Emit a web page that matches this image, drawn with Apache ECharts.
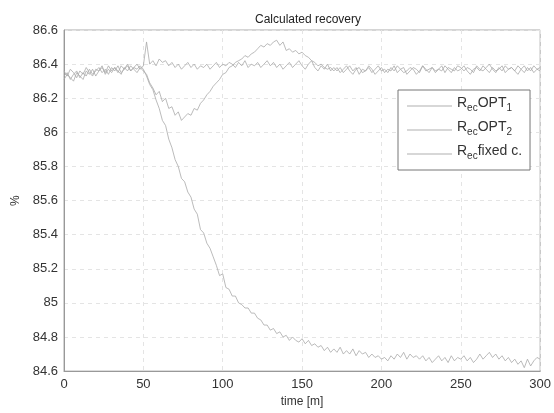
<!DOCTYPE html>
<html>
<head>
<meta charset="utf-8">
<script src="https://cdn.jsdelivr.net/npm/echarts@6/dist/echarts.min.js"></script>
<style>html,body{margin:0;padding:0;background:#fff}#c{width:554px;height:413px}</style>
</head>
<body>
<div id="c"></div>
<script>
// sampling step in minutes (t = 0, 2, ..., 300)
const timeStep = 2;
const xTicks = [0, 50, 100, 150, 200, 250, 300];
const yTicks = [84.6, 84.8, 85, 85.2, 85.4, 85.6, 85.8, 86, 86.2, 86.4, 86.6];

const recOpt1 = [
  86.33, 86.35, 86.31, 86.34, 86.36, 86.32, 86.35, 86.33, 86.37, 86.34,
  86.36, 86.38, 86.35, 86.37, 86.34, 86.38, 86.36, 86.39, 86.35, 86.37,
  86.39, 86.36, 86.38, 86.37, 86.39, 86.37, 86.33, 86.28, 86.25, 86.19,
  86.14, 86.07, 86.04, 85.96, 85.91, 85.84, 85.80, 85.73, 85.71, 85.65,
  85.62, 85.55, 85.52, 85.43, 85.41, 85.35, 85.32, 85.27, 85.22, 85.16,
  85.17, 85.09, 85.08, 85.04, 85.04, 85.00, 84.99, 84.97, 84.97, 84.94,
  84.94, 84.91, 84.90, 84.87, 84.87, 84.84, 84.85, 84.82, 84.83, 84.80,
  84.81, 84.78, 84.80, 84.78, 84.77, 84.79, 84.76, 84.78, 84.75, 84.76,
  84.74, 84.75, 84.72, 84.74, 84.71, 84.73, 84.71, 84.74, 84.70, 84.72,
  84.70, 84.73, 84.69, 84.72, 84.70, 84.71, 84.68, 84.70, 84.68, 84.69,
  84.67, 84.68, 84.66, 84.69, 84.67, 84.70, 84.68, 84.71, 84.67, 84.70,
  84.68, 84.69, 84.67, 84.69, 84.66, 84.68, 84.65, 84.67, 84.69, 84.66,
  84.68, 84.65, 84.69, 84.66, 84.68, 84.67, 84.69, 84.66, 84.68, 84.65,
  84.67, 84.70, 84.67, 84.69, 84.71, 84.68, 84.70, 84.67, 84.69, 84.66,
  84.68, 84.65, 84.67, 84.64, 84.66, 84.62, 84.67, 84.63, 84.66, 84.68,
  84.67
];

const recOpt2 = [
  86.36, 86.33, 86.37, 86.35, 86.32, 86.36, 86.34, 86.38, 86.35, 86.33,
  86.37, 86.36, 86.39, 86.34, 86.37, 86.35, 86.38, 86.36, 86.34, 86.38,
  86.36, 86.39, 86.37, 86.35, 86.38, 86.36, 86.34, 86.29, 86.26, 86.22,
  86.24, 86.18, 86.20, 86.14, 86.15, 86.10, 86.12, 86.07, 86.09, 86.11,
  86.10, 86.14, 86.13, 86.17, 86.19, 86.22, 86.24, 86.27, 86.29, 86.31,
  86.34, 86.35, 86.38, 86.39, 86.41, 86.42, 86.43, 86.45, 86.44, 86.46,
  86.47, 86.49, 86.51, 86.50, 86.52, 86.51, 86.53, 86.54, 86.51, 86.53,
  86.48, 86.49, 86.47, 86.48, 86.46, 86.47, 86.45, 86.44, 86.42, 86.41,
  86.39, 86.40, 86.38, 86.37, 86.38, 86.36, 86.38, 86.35, 86.37, 86.39,
  86.36, 86.34, 86.37, 86.38, 86.35, 86.36, 86.39, 86.37, 86.34, 86.36,
  86.38, 86.35, 86.37, 86.36, 86.39, 86.35, 86.37, 86.38, 86.34, 86.36,
  86.38, 86.37, 86.35, 86.39, 86.36, 86.37, 86.38, 86.35, 86.37, 86.36,
  86.39, 86.37, 86.35, 86.38, 86.36, 86.37, 86.39, 86.36, 86.34, 86.37,
  86.38, 86.36, 86.39, 86.37, 86.35, 86.38, 86.36, 86.37, 86.39, 86.35,
  86.37, 86.38, 86.36, 86.34, 86.37, 86.39, 86.36, 86.38, 86.35, 86.37,
  86.36
];

const recFixed = [
  86.31, 86.34, 86.32, 86.30, 86.35, 86.33, 86.31, 86.36, 86.34, 86.37,
  86.33, 86.36, 86.38, 86.35, 86.39, 86.36, 86.38, 86.35, 86.39, 86.37,
  86.40, 86.36, 86.38, 86.40, 86.37, 86.39, 86.53, 86.40, 86.42, 86.39,
  86.43, 86.41, 86.42, 86.39, 86.41, 86.38, 86.40, 86.37, 86.39, 86.41,
  86.38, 86.40, 86.37, 86.39, 86.38, 86.40, 86.37, 86.39, 86.41, 86.38,
  86.40, 86.39, 86.41, 86.40, 86.38, 86.41, 86.39, 86.42, 86.38, 86.40,
  86.39, 86.41, 86.38, 86.40, 86.42, 86.39, 86.41, 86.38, 86.40, 86.37,
  86.39, 86.41, 86.38, 86.40, 86.42, 86.39, 86.37, 86.40, 86.42, 86.38,
  86.36, 86.39, 86.37, 86.40, 86.36, 86.38, 86.36, 86.38, 86.35, 86.37,
  86.39, 86.36, 86.38, 86.34, 86.37, 86.36, 86.38, 86.35, 86.37, 86.39,
  86.36, 86.37, 86.35, 86.38, 86.36, 86.39, 86.37, 86.35, 86.36, 86.38,
  86.37, 86.34, 86.36, 86.39, 86.37, 86.35, 86.38, 86.36, 86.37, 86.39,
  86.35, 86.38, 86.37, 86.36, 86.39, 86.38, 86.36, 86.38, 86.37, 86.35,
  86.39, 86.37, 86.36, 86.38, 86.40, 86.37, 86.35, 86.38, 86.36, 86.39,
  86.37, 86.38, 86.36, 86.39, 86.37, 86.35, 86.38, 86.36, 86.39, 86.37,
  86.38
];

const seriesNames = ['OPT1', 'OPT2', 'fixed'];
const legendRich = {
  OPT1: '{a|R}{s|ec}{a|OPT}{s|1}',
  OPT2: '{a|R}{s|ec}{a|OPT}{s|2}',
  fixed: '{a|R}{s|ec}{a|fixed c.}'
};

function pairs(arr) {
  return arr.map((v, i) => [i * timeStep, v]);
}

const FONT = 'Liberation Sans, Arial, Helvetica, sans-serif';
const lineColor = '#aaaaaa';

const chart = echarts.init(document.getElementById('c'), null, {renderer: 'canvas'});
chart.setOption({
  animation: false,
  backgroundColor: '#fff',
  title: {
    text: 'Calculated recovery',
    left: 303, top: 9, textAlign: 'center',
    textStyle: {fontFamily: FONT, fontSize: 12, fontWeight: 'normal', color: '#222'}
  },
  grid: {
    left: 64, right: 11, top: 30, bottom: 41,
    show: true, borderColor: '#aaa', borderWidth: 1, backgroundColor: 'transparent'
  },
  legend: {
    orient: 'vertical',
    left: 398, top: 90,
    icon: 'rect',
    itemWidth: 45, itemHeight: 1, itemGap: 4,
    padding: [6, 8, 6, 9],
    backgroundColor: '#fff',
    borderColor: '#777', borderWidth: 1,
    data: seriesNames,
    formatter: name => legendRich[name],
    itemStyle: {color: '#b0b0b0', borderWidth: 0},
    textStyle: {
      fontFamily: FONT, color: '#333',
      rich: {
        a: {fontFamily: FONT, fontSize: 14, lineHeight: 14, padding: [0, 0, 6, 0], color: '#333'},
        s: {fontFamily: FONT, fontSize: 10, lineHeight: 10, verticalAlign: 'bottom', color: '#333'}
      }
    }
  },
  xAxis: {
    type: 'value', min: 0, max: 300, interval: 50,
    name: 'time [m]', nameLocation: 'middle', nameGap: 22,
    nameTextStyle: {fontFamily: FONT, fontSize: 12, color: '#333'},
    axisLine: {show: true, lineStyle: {color: '#999'}},
    axisTick: {show: false},
    axisLabel: {fontFamily: FONT, fontSize: 13, color: '#333', margin: 7},
    splitLine: {show: true, lineStyle: {color: '#e4e4e4', type: [4, 4]}}
  },
  yAxis: {
    type: 'value', min: 84.6, max: 86.6, interval: 0.2,
    name: '%', nameLocation: 'middle', nameGap: 40, nameRotate: 90,
    nameTextStyle: {fontFamily: FONT, fontSize: 12, color: '#333'},
    axisLine: {show: true, lineStyle: {color: '#999'}},
    axisTick: {show: false},
    axisLabel: {
      fontFamily: FONT, fontSize: 13, color: '#333', margin: 6,
      formatter: v => String(parseFloat(v.toFixed(1)))
    },
    splitLine: {show: true, lineStyle: {color: '#e4e4e4', type: [4, 4]}}
  },
  series: [
    {name: 'OPT1', type: 'line', data: pairs(recOpt1), symbol: 'none', lineStyle: {color: lineColor, width: 0.8}, itemStyle: {color: lineColor}},
    {name: 'OPT2', type: 'line', data: pairs(recOpt2), symbol: 'none', lineStyle: {color: lineColor, width: 0.8}, itemStyle: {color: lineColor}},
    {name: 'fixed', type: 'line', data: pairs(recFixed), symbol: 'none', lineStyle: {color: lineColor, width: 0.8}, itemStyle: {color: lineColor}}
  ]
});
</script>
</body>
</html>
